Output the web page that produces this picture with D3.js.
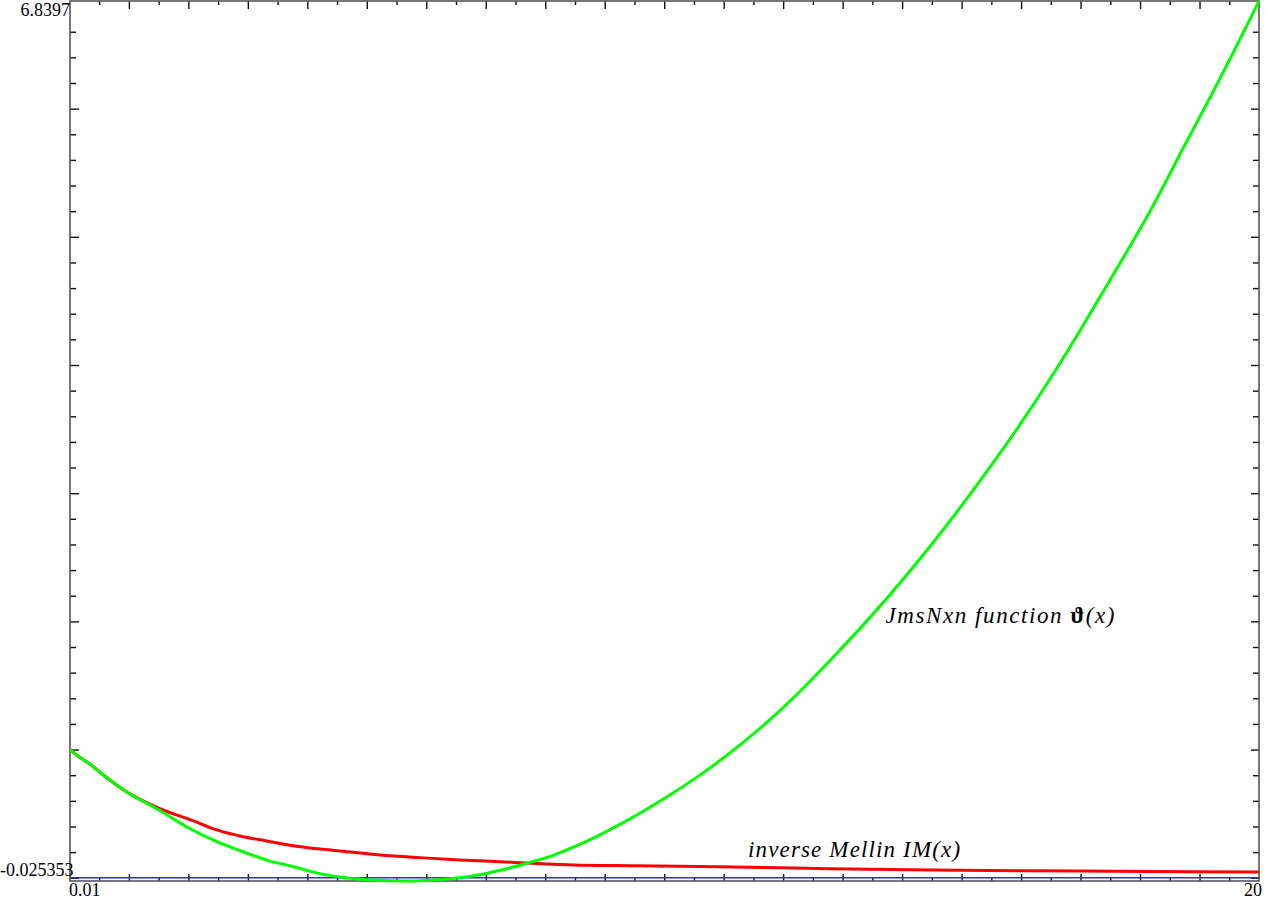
<!DOCTYPE html>
<html>
<head>
<meta charset="utf-8">
<script src="https://cdn.jsdelivr.net/npm/d3@7"></script>
<style>
  body { margin: 0; background: #fff; }
  svg { display: block; }
</style>
</head>
<body>
<svg id="chart" width="1265" height="900"></svg>
<script>
// plot range
var xDomain = [0.01, 20];
var yDomain = [-0.025353, 6.8397];

// JmsNxn function theta(x) (green)
var thetaX = [0.01, 0.12, 0.35, 0.57, 0.96, 1.52, 1.97, 2.48, 2.92, 3.32, 3.77, 4.21, 4.72, 5.1, 5.64, 6.0, 6.28, 6.57, 7.12, 7.69, 8.13, 8.58, 9.31, 10.04, 10.66, 11.27, 11.89, 12.34, 12.9, 13.4, 14.02, 14.69, 15.48, 15.98, 16.77, 17.49, 18.11, 18.78, 19.01, 19.57, 20];
var thetaY = [1.0, 0.958, 0.885, 0.802, 0.671, 0.525, 0.398, 0.281, 0.203, 0.138, 0.086, 0.032, -0.004, -0.018, -0.025353, -0.021, -0.012, 0.0, 0.045, 0.113, 0.175, 0.26, 0.43, 0.63, 0.82, 1.035, 1.28, 1.48, 1.75, 2.0, 2.33, 2.715, 3.205, 3.535, 4.1, 4.66, 5.15, 5.74, 5.94, 6.44, 6.8397];

// inverse Mellin IM(x) (red)
var imX = [0.01, 0.12, 0.35, 0.57, 0.96, 1.52, 2.08, 2.48, 2.92, 3.32, 3.76, 4.21, 4.55, 5.22, 5.89, 6.57, 7.24, 7.79, 8.47, 9.5, 10.94, 12.8, 14.5, 17.0, 20];
var imY = [1.0, 0.958, 0.885, 0.802, 0.671, 0.54, 0.445, 0.373, 0.320, 0.287, 0.250, 0.224, 0.209, 0.178, 0.157, 0.139, 0.125, 0.113, 0.100, 0.094, 0.086, 0.070, 0.060, 0.052, 0.045];

// zero line (blue)
var zeroX = [0.01, 20];
var zeroY = [0, 0];

// tick labels (only the plot ends are labelled)
var xTickLabels = ["0.01", "20"];
var yTickLabels = ["-0.025353", "6.8397"];

var thetaLabel = "JmsNxn function ";
var imLabel = "inverse Mellin IM(x)";

var serif = "'Liberation Serif', 'Times New Roman', Times, serif";

var svg = d3.select("#chart");
var margin = { top: 1, right: 6, bottom: 19, left: 70 };
var width = +svg.attr("width") - margin.left - margin.right,
    height = +svg.attr("height") - margin.top - margin.bottom;

var x = d3.scaleLinear().domain(xDomain).range([margin.left, margin.left + width]);
var y = d3.scaleLinear().domain(yDomain).range([margin.top + height, margin.top]);

// ticks: minor every 0.5 / 0.2, major on integers
var xMinor = d3.range(1, 40).map(function(i) { return i * 0.5; }).filter(function(v) { return v % 1 !== 0; });
var xMajor = d3.range(1, 20);
var yMinor = d3.range(1, 34).map(function(i) { return +(i * 0.2).toFixed(1); }).filter(function(v) { return v % 1 !== 0; });
var yMajor = d3.range(0, 7);

function tickAxis(axis, values, size, transform) {
	var g = svg.append("g")
		.attr("transform", transform)
		.call(axis.tickValues(values).tickSize(size).tickFormat(""));
	g.select(".domain").remove();
	g.selectAll(".tick line").attr("stroke", "#111").attr("stroke-width", 1.4);
	return g;
}

var bottomY = y.range()[0], topY = y.range()[1];
var leftX = x.range()[0], rightX = x.range()[1];

tickAxis(d3.axisBottom(x), xMinor, -4, "translate(0," + bottomY + ")");
tickAxis(d3.axisBottom(x), xMajor, -7, "translate(0," + bottomY + ")");
tickAxis(d3.axisTop(x), xMinor, -4, "translate(0," + topY + ")");
tickAxis(d3.axisTop(x), xMajor, -8, "translate(0," + topY + ")");
tickAxis(d3.axisLeft(y), yMinor, -6, "translate(" + leftX + ",0)");
tickAxis(d3.axisLeft(y), yMajor, -9, "translate(" + leftX + ",0)");
tickAxis(d3.axisRight(y), yMinor, -6, "translate(" + rightX + ",0)");
tickAxis(d3.axisRight(y), yMajor, -8, "translate(" + rightX + ",0)");

// frame
svg.append("rect")
	.attr("x", leftX)
	.attr("y", topY)
	.attr("width", rightX - leftX)
	.attr("height", bottomY - topY)
	.attr("fill", "none")
	.attr("stroke", "#555")
	.attr("stroke-width", 1.6);

function series(xs, ys) {
	return xs.map(function(v, i) { return [v, ys[i]]; });
}

var line = d3.line()
	.x(function(d) { return x(d[0]); })
	.y(function(d) { return y(d[1]); })
	.curve(d3.curveMonotoneX);

svg.append("path")
	.datum(series(zeroX, zeroY))
	.attr("fill", "none")
	.attr("stroke", "#2a2aff")
	.attr("stroke-width", 1.6)
	.attr("d", line);

svg.append("path")
	.datum(series(imX, imY))
	.attr("fill", "none")
	.attr("stroke", "#ff0000")
	.attr("stroke-width", 3)
	.attr("stroke-linejoin", "round")
	.attr("d", line);

svg.append("path")
	.datum(series(thetaX, thetaY))
	.attr("fill", "none")
	.attr("stroke", "#00ff00")
	.attr("stroke-width", 3)
	.attr("stroke-linejoin", "round")
	.attr("d", line);

// end labels
function label(px, py, str, anchor) {
	return svg.append("text")
		.attr("x", px)
		.attr("y", py)
		.attr("text-anchor", anchor || "start")
		.attr("font-family", serif)
		.attr("font-size", 18)
		.attr("fill", "#000")
		.text(str);
}

label(leftX, topY + 15, yTickLabels[1], "end");
label(0, bottomY - 5, yTickLabels[0]);
label(leftX - 1, bottomY + 15, xTickLabels[0]);
label(rightX + 3, bottomY + 15, xTickLabels[1], "end");

// curve labels
var t1 = svg.append("text")
	.attr("x", x(13.72))
	.attr("y", y(1.988))
	.attr("font-family", serif)
	.attr("font-size", 23)
	.attr("font-style", "italic")
	.attr("textLength", 229)
	.attr("lengthAdjust", "spacing")
	.attr("fill", "#000");
t1.append("tspan").text(thetaLabel);
t1.append("tspan").attr("font-style", "normal").attr("font-weight", "bold").text("\u03D1");
t1.append("tspan").text("(x)");

svg.append("text")
	.attr("x", x(11.41))
	.attr("y", y(0.164))
	.attr("font-family", serif)
	.attr("font-size", 23)
	.attr("font-style", "italic")
	.attr("textLength", 212)
	.attr("lengthAdjust", "spacing")
	.attr("fill", "#000")
	.text(imLabel);
</script>
</body>
</html>
